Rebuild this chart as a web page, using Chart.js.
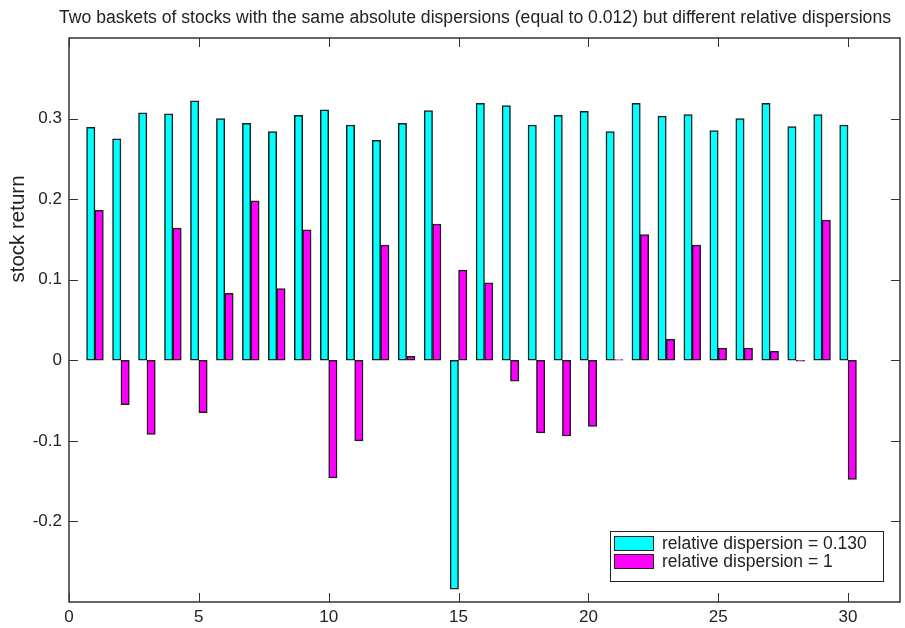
<!DOCTYPE html>
<html lang="en">
<head>
  <meta charset="UTF-8" />
  <title>Two baskets of stocks</title>
  <script src="https://cdn.jsdelivr.net/npm/chart.js"></script>
  <style>
    html, body {
      margin: 0;
      padding: 0;
      background-color: #fff;
    }
    .chart-container {
      width: 905px;
      height: 628px;
      position: relative;
    }
  </style>
</head>
<body>
  <div class="chart-container">
    <canvas id="dispersionChart"></canvas>
  </div>

  <script>
    const stocks = [1, 2, 3, 4, 5, 6, 7, 8, 9, 10, 11, 12, 13, 14, 15, 16, 17, 18, 19, 20, 21, 22, 23, 24, 25, 26, 27, 28, 29, 30];
    const basketLow = [0.289, 0.275, 0.307, 0.306, 0.322, 0.300, 0.294, 0.284, 0.304, 0.311, 0.292, 0.273, 0.294, 0.310, -0.284,
                       0.319, 0.316, 0.292, 0.304, 0.309, 0.284, 0.319, 0.303, 0.305, 0.285, 0.300, 0.319, 0.290, 0.305, 0.292];
    const basketHigh = [0.186, -0.055, -0.092, 0.164, -0.065, 0.083, 0.198, 0.089, 0.162, -0.146, -0.100, 0.143, 0.005, 0.169, 0.112,
                        0.096, -0.026, -0.090, -0.094, -0.082, 0.001, 0.156, 0.026, 0.143, 0.015, 0.015, 0.011, -0.001, 0.174, -0.148];
    const seriesLabels = ['relative dispersion = 0.130', 'relative dispersion = 1'];
    const seriesColors = ['#00ffff', '#ff00ff'];
    const xTicks = [0, 5, 10, 15, 20, 25, 30];
    const yTicks = [-0.2, -0.1, 0, 0.1, 0.2, 0.3];
    const titleText = 'Two baskets of stocks with the same absolute dispersions (equal to 0.012) but different relative dispersions';

    const FONT = '"Liberation Sans", Arial, sans-serif';
    const TEXT = '#222';

    // title, box, inward ticks, y label and legend drawn MATLAB style
    const matlabFrame = {
      id: 'matlabFrame',
      afterDatasetsDraw(chart) {
        const { ctx, chartArea: a, scales: { x, y } } = chart;
        const tl = 9;
        ctx.save();

        ctx.font = '17.6px ' + FONT;
        ctx.fillStyle = TEXT;
        ctx.textAlign = 'center';
        ctx.textBaseline = 'alphabetic';
        ctx.fillText(titleText, 475, 23);

        ctx.strokeStyle = '#333';
        ctx.lineWidth = 1.5;
        ctx.strokeRect(a.left, a.top, a.right - a.left, a.bottom - a.top);
        ctx.beginPath();
        xTicks.forEach(v => {
          const px = Math.round(x.getPixelForValue(v)) + 0.5;
          ctx.moveTo(px, a.bottom); ctx.lineTo(px, a.bottom - tl);
          ctx.moveTo(px, a.top); ctx.lineTo(px, a.top + tl);
        });
        yTicks.forEach(v => {
          const py = Math.round(y.getPixelForValue(v)) + 0.5;
          ctx.moveTo(a.left, py); ctx.lineTo(a.left + tl, py);
          ctx.moveTo(a.right, py); ctx.lineTo(a.right - tl, py);
        });
        ctx.lineWidth = 1;
        ctx.stroke();

        // y axis label
        ctx.save();
        ctx.translate(18, a.top + 191);
        ctx.rotate(-Math.PI / 2);
        ctx.font = '20.5px ' + FONT;
        ctx.fillStyle = TEXT;
        ctx.textAlign = 'center';
        ctx.textBaseline = 'middle';
        ctx.fillText('stock return', 0, 0);
        ctx.restore();

        // legend
        const bw = 273, bh = 50;
        const bx = a.right - 17 - bw, by = a.bottom - 21 - bh;
        ctx.fillStyle = '#fff';
        ctx.fillRect(bx, by, bw, bh);
        ctx.strokeStyle = '#222';
        ctx.lineWidth = 1;
        ctx.strokeRect(bx + 0.5, by + 0.5, bw, bh);
        ctx.font = '17.5px ' + FONT;
        ctx.textAlign = 'left';
        ctx.textBaseline = 'middle';
        chart.data.datasets.forEach((ds, i) => {
          const sy = by + 5 + i * 18;
          ctx.fillStyle = ds.backgroundColor;
          ctx.fillRect(bx + 4, sy, 39, 14);
          ctx.strokeRect(bx + 4.5, sy + 0.5, 39, 14);
          ctx.fillStyle = TEXT;
          ctx.fillText(ds.label, bx + 52, sy + 8);
        });
        ctx.restore();
      }
    };

    const datasets = [basketLow, basketHigh].map((vals, i) => ({
      label: seriesLabels[i],
      data: stocks.map((s, j) => ({ x: s, y: vals[j] })),
      backgroundColor: seriesColors[i],
      borderColor: '#1e1e1e',
      borderWidth: 1.5,
      borderSkipped: false,
      barThickness: 8.4
    }));

    const ctx = document.getElementById('dispersionChart').getContext('2d');

    const chart = new Chart(ctx, {
      type: 'bar',
      data: { datasets: datasets },
      plugins: [matlabFrame],
      options: {
        responsive: true,
        maintainAspectRatio: false,
        animation: false,
        layout: { padding: { left: 0, right: 5, top: 38, bottom: 0 } },
        plugins: {
          legend: { display: false },
          tooltip: { enabled: false },
          title: { display: false }
        },
        scales: {
          x: {
            type: 'linear',
            offset: false,
            min: 0,
            max: 32,
            grid: { display: false, drawTicks: false, offset: false },
            border: { display: false },
            afterBuildTicks: scale => { scale.ticks = xTicks.map(v => ({ value: v })); },
            afterFit: scale => { scale.height = 26; },
            ticks: {
              padding: 5,
              color: TEXT,
              font: { family: FONT, size: 17 },
              callback: v => String(v)
            }
          },
          y: {
            min: -0.3,
            max: 0.4,
            grid: { display: false, drawTicks: false },
            border: { display: false },
            afterBuildTicks: scale => { scale.ticks = yTicks.map(v => ({ value: v })); },
            afterFit: scale => { scale.width = 69; },
            ticks: {
              padding: 7,
              color: TEXT,
              font: { family: FONT, size: 17 },
              callback: v => String(Math.round(v * 10) / 10)
            }
          }
        }
      }
    });
  </script>
</body>
</html>
